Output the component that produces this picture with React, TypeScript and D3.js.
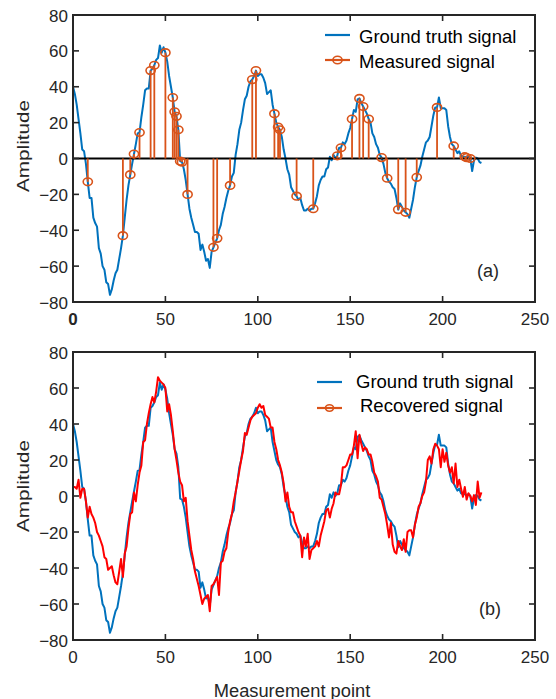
import React from "react";
import * as d3 from "d3";

// Ground truth signal, samples 0..221
const groundTruth: number[] = [
  40, 36, 30, 22, 14, 5, 4, -3, -13, -22,
  -22, -33, -36, -38, -50, -53, -60, -62, -69, -70,
  -76, -73, -68, -64, -62, -56, -50, -43, -33, -23,
  -15, -9, -3, 2.5, 8, 14, 14.5, 23, 30, 38,
  39, 39, 49, 50, 52, 55, 56, 63, 59, 62,
  59, 54, 46, 40, 34, 26, 23.5, 16, -1.5, -2,
  -6, -12, -20, -28, -33, -37, -41, -41, -42, -51,
  -48, -52, -57, -56, -61, -52, -49.5, -47, -44.5, -40,
  -37, -31, -27, -22, -18, -15, -10, -8, 2, 8,
  16, 20, 27, 33, 35, 40, 43, 44, 46, 49,
  46, 47, 47, 45, 42, 36, 37, 38, 30, 25,
  20, 17.5, 16, 12, 5, 0, -6, -9, -16, -18,
  -20, -21, -23, -22, -26, -29, -29, -28, -29, -28,
  -28, -25, -21, -15, -12, -10, -10, -6, -5, 1,
  -1, 2, 0, 1.5, 6, 6, 9, 8, 10, 14,
  17, 22, 27, 26, 33, 33.5, 31, 29, 27, 25,
  22, 20, 14, 12, 8, 6, 2, 0.5, -3, -8,
  -11, -13, -14, -16, -17, -22, -28.5, -25, -27, -29,
  -30, -31, -33, -28, -23, -16, -10.5, -7, -4, 1,
  5, 9, 10, 12, 18, 24, 28.5, 28.5, 34, 28,
  28, 28, 27, 18, 12, 8, 7, 5, 3, 4,
  1.5, 1, 1, 0.5, 1, 0, -7, -1, 0.5, 0,
  -2, -2.5,
];

// Measured (sampled) signal
const measuredIdx: number[] = [
  8, 27, 31, 33, 36, 42, 44, 50, 54, 55, 56, 57, 58, 59, 62,
  76, 78, 85, 97, 99, 109, 111, 112, 121, 130,
  143, 145, 151, 155, 157, 160, 167, 170, 176, 180, 186,
  197, 206, 212, 213, 215,
];
const measuredVals: number[] = [
  -13, -43, -9, 2.5, 14.5, 49, 52, 59, 34, 26, 23.5, 16, -1.5, -2, -20,
  -49.5, -44.5, -15, 44, 49, 25, 17.5, 16, -21, -28,
  1.5, 6, 22, 33.5, 29, 22, 0.5, -11, -28.5, -30, -10.5,
  28.5, 7, 1, 0.5, 0,
];

// Recovered signal, samples 0..221
const recovered: number[] = [
  5, 5, 4, 9, -1, 4, 4, -3, -12, -6,
  -10, -12, -15, -20, -22, -25, -28, -34, -35, -41,
  -40, -39, -44, -48, -49, -42, -35, -45, -32, -28,
  -18, -10, -9, 2, -3, 6, 13, 17, 30, 31,
  40, 46, 51, 55, 52, 58, 66, 64, 63, 62,
  60, 47, 51, 45, 36, 26, 20, 13, 8, 6,
  -3, -1, -14, -22, -30, -35, -42, -46, -50, -55,
  -60, -57, -56, -55, -64, -50, -49, -47, -45, -55,
  -37, -36, -31, -29, -20, -14, -10, -3, 2, 8,
  14, 20, 25, 35, 34, 38, 42, 44, 45, 46,
  49, 51, 49, 50, 45, 44, 43, 38, 38, 30,
  26, 20, 17, 13, 7, -3, 2, -6, -9, -9,
  -14, -17, -20, -22, -34, -23, -28, -21, -35, -30,
  -29, -28, -25, -28, -22, -18, -14, -8, -7, -12,
  -7, -4, 2, 1, 1, 6, 16, 16, 17, 20,
  23, 23, 28, 36, 21, 34, 29, 25, 27, 26,
  23, 23, 19, 13, 11, 8, -1, -2, -6, -10,
  -16, -23, -15, -27, -31, -32, -25, -28, -30, -24,
  -31, -20, -19, -19, -23, -16, -12, -6, -4, 0,
  2, 8, 20, 22, 18, 26, 29, 28, 26, 16,
  26, 19, 24, 17, 13, 16, 7, 18, 5, 9,
  4, -0.5, 5, -2, 1.5, 0, -3, 0.5, -5, 8,
  -1, 2,
];

const xTicks: number[] = [0, 50, 100, 150, 200, 250];
const yTicks: number[] = [-80, -60, -40, -20, 0, 20, 40, 60, 80];

const BLUE = "#0072BD";
const ORANGE = "#D95319";
const RED = "#FF0000";
const AX = "#262626";
const FONT = "'Liberation Sans', Arial, Helvetica, sans-serif";

const X0 = 73;
const X1 = 535;

function fmt(v: number): string {
  return v < 0 ? "\u2212" + Math.abs(v) : String(v);
}

function Frame({ top, bottom, boldZero }: { top: number; bottom: number; boldZero?: boolean }) {
  const x = d3.scaleLinear().domain([0, 250]).range([X0, X1]);
  const y = d3.scaleLinear().domain([-80, 80]).range([bottom, top]);
  const tl = 6;
  return (
    <g>
      {yTicks.map((t) => (
        <g key={"y" + t}>
          <line x1={X0} x2={X0 + tl} y1={y(t)} y2={y(t)} stroke={AX} strokeWidth={1.6} />
          <line x1={X1} x2={X1 - tl} y1={y(t)} y2={y(t)} stroke={AX} strokeWidth={1.6} />
          <text
            x={X0 - 5}
            y={y(t) + 1}
            textAnchor="end"
            dominantBaseline="central"
            fontFamily={FONT}
            fontSize={17}
            fill={AX}
          >
            {fmt(t)}
          </text>
        </g>
      ))}
      {xTicks.map((t) => (
        <g key={"x" + t}>
          <line x1={x(t)} x2={x(t)} y1={bottom} y2={bottom - tl} stroke={AX} strokeWidth={1.6} />
          <line x1={x(t)} x2={x(t)} y1={top} y2={top + tl} stroke={AX} strokeWidth={1.6} />
          <text
            x={x(t)}
            y={bottom + 17}
            textAnchor="middle"
            dominantBaseline="central"
            fontFamily={FONT}
            fontSize={17}
            fill={AX}
            fontWeight={boldZero && t === 0 ? "bold" : "normal"}
          >
            {t}
          </text>
        </g>
      ))}
      <rect x={X0} y={top} width={X1 - X0} height={bottom - top} fill="none" stroke={AX} strokeWidth={2} />
    </g>
  );
}

export default function App() {
  const x = d3.scaleLinear().domain([0, 250]).range([X0, X1]);
  const yA = d3.scaleLinear().domain([-80, 80]).range([302, 15]);
  const yB = d3.scaleLinear().domain([-80, 80]).range([640, 352]);

  const lineA = d3
    .line<number>()
    .x((_, i) => x(i))
    .y((d) => yA(d));
  const lineB = d3
    .line<number>()
    .x((_, i) => x(i))
    .y((d) => yB(d));

  return (
    <svg
      width={556}
      height={699}
      style={{ position: "absolute", left: 0, top: 0, background: "#fff" }}
    >
      {/* Panel (a) */}
      <path d={lineA(groundTruth) || ""} fill="none" stroke={BLUE} strokeWidth={2} strokeLinejoin="round" />
      <line x1={X0} x2={X1} y1={yA(0)} y2={yA(0)} stroke="#000" strokeWidth={2} />
      {measuredIdx.map((mi, k) => (
        <line
          key={"s" + k}
          x1={x(mi)}
          x2={x(mi)}
          y1={yA(0)}
          y2={yA(measuredVals[k])}
          stroke={ORANGE}
          strokeWidth={1.8}
        />
      ))}
      {measuredIdx.map((mi, k) => (
        <ellipse
          key={"c" + k}
          cx={x(mi)}
          cy={yA(measuredVals[k])}
          rx={4.6}
          ry={3.8}
          fill="none"
          stroke={ORANGE}
          strokeWidth={1.6}
        />
      ))}
      <Frame top={15} bottom={302} boldZero />
      {/* legend (a) */}
      <line x1={325} x2={350} y1={35} y2={35} stroke={BLUE} strokeWidth={2.2} />
      <text x={359} y={36} dominantBaseline="central" fontFamily={FONT} fontSize={18.5} fill="#000">
        Ground truth signal
      </text>
      <line x1={325} x2={350} y1={60} y2={60} stroke={ORANGE} strokeWidth={2.2} />
      <ellipse cx={337.5} cy={60} rx={4.6} ry={3.8} fill="none" stroke={ORANGE} strokeWidth={1.6} />
      <text x={359} y={61} dominantBaseline="central" fontFamily={FONT} fontSize={18.5} fill="#000">
        Measured signal
      </text>
      <text x={488} y={271} textAnchor="middle" dominantBaseline="central" fontFamily={FONT} fontSize={18} fill={AX}>
        (a)
      </text>

      {/* Panel (b) */}
      <path d={lineB(groundTruth) || ""} fill="none" stroke={BLUE} strokeWidth={2} strokeLinejoin="round" />
      <path d={lineB(recovered) || ""} fill="none" stroke={RED} strokeWidth={2} strokeLinejoin="round" />
      <Frame top={352} bottom={640} />
      {/* legend (b) */}
      <line x1={317} x2={342} y1={382} y2={382} stroke={BLUE} strokeWidth={2.2} />
      <text x={356} y={381} dominantBaseline="central" fontFamily={FONT} fontSize={18.5} fill="#000">
        Ground truth signal
      </text>
      <line x1={317} x2={342} y1={408} y2={408} stroke={ORANGE} strokeWidth={2.2} />
      <ellipse cx={329.5} cy={408} rx={4} ry={3.2} fill="none" stroke={ORANGE} strokeWidth={1.6} />
      <text x={360} y={405} dominantBaseline="central" fontFamily={FONT} fontSize={18.5} fill="#000">
        Recovered signal
      </text>
      <text x={490} y={609} textAnchor="middle" dominantBaseline="central" fontFamily={FONT} fontSize={18} fill={AX}>
        (b)
      </text>

      {/* axis labels */}
      <text
        transform="translate(23,146) rotate(-90)"
        textAnchor="middle"
        dominantBaseline="central"
        fontFamily={FONT}
        fontSize={17}
        textLength={92}
        lengthAdjust="spacingAndGlyphs"
        fill={AX}
      >
        Amplitude
      </text>
      <text
        transform="translate(23,486) rotate(-90)"
        textAnchor="middle"
        dominantBaseline="central"
        fontFamily={FONT}
        fontSize={17}
        textLength={92}
        lengthAdjust="spacingAndGlyphs"
        fill={AX}
      >
        Amplitude
      </text>
      <text
        x={292}
        y={690}
        textAnchor="middle"
        dominantBaseline="central"
        fontFamily={FONT}
        fontSize={18.3}
        fill={AX}
      >
        Measurement point
      </text>
    </svg>
  );
}
